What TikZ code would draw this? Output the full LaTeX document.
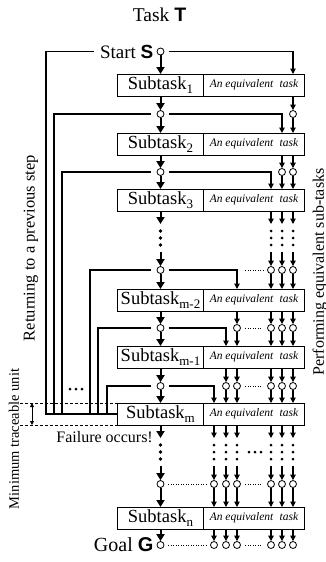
\documentclass[tikz,border=0pt]{standalone}
\usepackage{fontspec}
\setmainfont{Liberation Serif}
\newfontfamily\hsans{Liberation Sans}
\usetikzlibrary{arrows.meta,calc}

\newcommand{\fsz}[1]{\fontsize{#1}{#1}\selectfont}
\newcommand{\sbs}[1]{\raisebox{-3.8pt}{\fsz{13}#1}}
\newcommand{\bigletter}[1]{{\hsans\bfseries #1}}

\tikzset{
  mainarrow/.style={line width=2pt, -{Triangle[length=7pt,width=8pt]}},
  colarrow/.style={line width=1.1pt, -{Triangle[length=5.5pt,width=5.5pt]}},
  retline/.style={line width=1.3pt},
  dotline/.style={line width=0.9pt, dash pattern=on 0.9pt off 1.6pt},
  guide/.style={line width=0.7pt, dash pattern=on 3pt off 2pt},
  junction/.style={circle, draw, fill=white, line width=0.8pt, inner sep=0pt, minimum size=7pt},
  subbox/.style={draw, line width=0.9pt, outer sep=0pt, minimum width=86pt, minimum height=22pt, inner sep=0pt, font=\fsz{18.5}},
  eqbox/.style={draw, line width=0.9pt, outer sep=0pt, minimum width=101pt, minimum height=22pt, inner sep=0pt, font=\fsz{11.5}\itshape},
  txt/.style={inner sep=0pt},
}

\begin{document}
\begin{tikzpicture}[x=1pt,y=-1pt]
\useasboundingbox (0,0) rectangle (326,562);
\fill[white] (0,0) rectangle (326,562);

% row levels of the junctions, column positions
\foreach \k/\y in {0/51.5,1/114,2/172,3/270,4/328,5/386,6/484,7/545}
  \coordinate (r\k) at (0,\y);
\coordinate (x0) at (160.5,0);
\foreach \j/\x in {1/214,2/226,3/237,4/271,5/282,6/293}
  \coordinate (x\j) at (\x,0);
\foreach \k/\x in {0/46,1/54,2/62,3/90,4/98,5/107}
  \coordinate (l\k) at (\x,0);
\coordinate (mt) at (20,0);
\coordinate (ma) at (32,0);

% title
\node[txt, font=\fsz{19.5}] (title) at (159.5,15) {Task \bigletter{T}};

% subtask rows
\foreach \k/\y/\lab in {1/85/1,2/144/2,3/200/3,4/300/{m-2},5/357/{m-1},6/414/m,7/518/n}{
  \node[subbox] (s\k) at (160.5,\y) {Subtask\sbs{\lab}};
  \node[eqbox, anchor=west] (e\k) at (s\k.east) {An equivalent\hspace{.3em} task};
}

% junctions on the main path
\foreach \k in {0,...,7} \node[junction] (m\k) at (x0 |- r\k) {};
% junctions on the equivalent paths
\foreach \j/\s in {1/5,2/4,3/3,4/2,5/1,6/0}{
  \pgfmathtruncatemacro\first{\s+1}
  \foreach \k in {\first,...,7}
    \node[junction] (c\j-\k) at (x\j |- r\k) {};
}

% start and goal
\node[txt, anchor=east, font=\fsz{19}] (start) at ([xshift=-3pt]m0.west) {Start \bigletter{S}};
\node[txt, anchor=east, font=\fsz{20}] (goal) at ([xshift=-3pt]m7.west) {Goal \bigletter{G}};

% main path
\foreach \k in {1,2,4,5,7} \draw[mainarrow] (s\k) -- (m\k);
\foreach \k [evaluate=\k as \n using int(\k+1)] in {0,...,6} \draw[mainarrow] (m\k) -- (s\n);
\foreach \k in {3,6}{
  \draw[mainarrow] (s\k.south) -- ++(0,13);
  \foreach \d in {20,27,34} \fill ($(s\k.south)+(0,\d)$) circle (1.8);
  \draw[mainarrow] ($(m\k)+(0,-18)$) -- (m\k);
}

% equivalent paths
\foreach \j/\s in {1/5,2/4,3/3,4/2,5/1,6/0}{
  \pgfmathtruncatemacro\n{\s+1}
  \draw[colarrow] ([xshift=4.5pt]m\s.east) -| (x\j |- e\n.north);
  \foreach \k in {\n,...,7}{
    \ifnum\k=3 \def\gapped{1}\else\ifnum\k=6 \def\gapped{1}\else\def\gapped{0}\fi\fi
    \ifnum\gapped=1
      \draw[colarrow] (c\j-\k |- e\k.south) -- ++(0,13);
      \foreach \d in {20,27,34} \fill ($(c\j-\k |- e\k.south)+(0,\d)$) circle (1.5);
      \draw[colarrow] ($(c\j-\k)+(0,-18)$) -- (c\j-\k);
    \else
      \draw[colarrow] (c\j-\k |- e\k.south) -- (c\j-\k);
    \fi
    \ifnum\k<7
      \pgfmathtruncatemacro\nn{\k+1}
      \draw[colarrow] (c\j-\k) -- (c\j-\k |- e\nn.north);
    \fi
  }
}

% elided paths
\draw[dotline] ([xshift=8pt]x3 |- r3) -- ([xshift=-4.5pt]c4-3.west);
\foreach \k in {4,...,7} \draw[dotline, shorten <=4.5pt, shorten >=4.5pt] (c3-\k) -- (c4-\k);
\foreach \k in {6,7} \draw[dotline, shorten <=4pt, shorten >=4pt] (m\k) -- (c1-\k);
\foreach \x in {249,255,261} \fill (\x,452) circle (1.5);
\foreach \x in {70,76,82} \fill (\x,389) circle (1.5);

% returning to a previous step
\draw[retline] ([xshift=-6pt]start.west) -| (l0 |- s6.west) -- (s6.west);
\foreach \k in {1,...,5} \draw[retline] ([xshift=-6pt]m\k.west) -| (l\k |- s6.west) -- (s6.west);

% minimum traceable unit
\draw[guide] (mt |- s6.north west) -- (s6.north west);
\draw[guide] (mt |- s6.south west) -- (s6.south west);
\draw[line width=0.8pt, {Triangle[length=4pt,width=4pt]}-{Triangle[length=4pt,width=4pt]}] (ma |- s6.north) -- (ma |- s6.south);

% side labels
\node[txt, rotate=90, font=\fsz{16.5}] (ret) at (31,248) {Returning to a previous step};
\node[txt, rotate=90, font=\fsz{14.5}] (mtu) at (14,439) {Minimum traceable unit};
\node[txt, rotate=90, font=\fsz{16}] (perf) at (320,272) {Performing equivalent sub-tasks};
\node[txt, anchor=east, font=\fsz{16}] (fail) at (153,437) {Failure occurs!};

\end{tikzpicture}
\end{document}
